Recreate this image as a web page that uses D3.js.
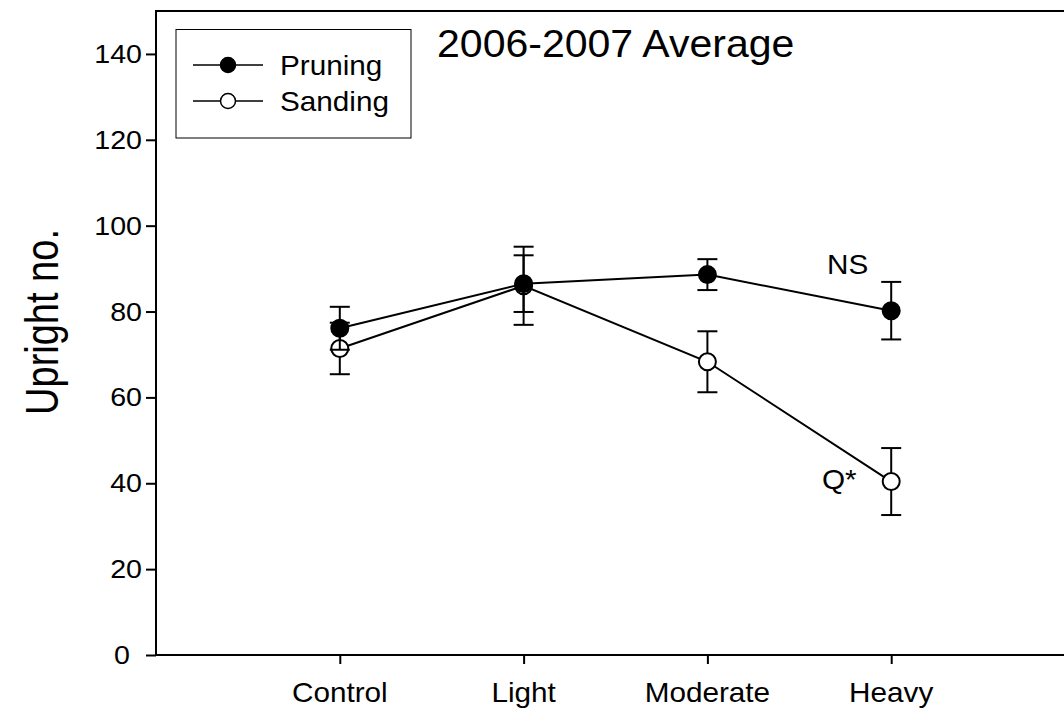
<!DOCTYPE html>
<html>
<head>
<meta charset="utf-8">
<script src="https://cdn.jsdelivr.net/npm/d3@7"></script>
<style>
  body { margin: 0; background: #fff; }
  text { font-family: "Liberation Sans", Arial, sans-serif; fill: #000; }
</style>
</head>
<body>
<div class="chart"></div>
<script>
// data
var categories = ["Control", "Light", "Moderate", "Heavy"];
var pruning = [76.1, 86.5, 88.6, 80.2];
var pruningErr = [5.0, 6.6, 3.6, 6.7];
var sanding = [71.4, 86.0, 68.3, 40.4];
var sandingErr = [6.0, 9.1, 7.1, 7.8];
var yTicks = [0, 20, 40, 60, 80, 100, 120, 140];

var W = 1064, H = 715;
var sx = 1.1; // text in the source is drawn a bit wide

var x = d3.scaleLinear().domain([0, 5]).range([156, 1075]);
var y = d3.scaleLinear().domain([0, 150]).range([655, 11]);

var svg = d3.select(".chart").append("svg")
    .attr("width", W)
    .attr("height", H);

function wideText(g, tx, ty, str, size, anchor, k) {
    return g.append("text")
        .attr("transform", "translate(" + tx + "," + ty + ") scale(" + (k || sx) + ",1)")
        .attr("text-anchor", anchor || "start")
        .style("font-size", size + "px")
        .text(str);
}

// frame (right side runs off the page)
svg.append("rect")
    .attr("x", x(0)).attr("y", y(150))
    .attr("width", x(5) - x(0)).attr("height", y(0) - y(150))
    .attr("fill", "none").attr("stroke", "#000").attr("stroke-width", 2);

// y axis
var yAxis = d3.axisLeft(y).tickValues(yTicks).tickSize(10).tickFormat("");
var gy = svg.append("g").attr("transform", "translate(" + x(0) + ",0)").call(yAxis);
gy.select(".domain").remove();
gy.selectAll(".tick line").attr("stroke-width", 2);
yTicks.forEach(function (t) {
    // the zero label sits further out, as in the source
    var off = t === 0 ? 26 : 14;
    wideText(svg, x(0) - off, y(t) + 9, t, 26, "end");
});

// x axis
var xAxis = d3.axisBottom(x).tickValues([1, 2, 3, 4]).tickSize(9).tickFormat("");
var gx = svg.append("g").attr("transform", "translate(0," + y(0) + ")").call(xAxis);
gx.select(".domain").remove();
gx.selectAll(".tick line").attr("stroke-width", 2);
categories.forEach(function (c, i) {
    wideText(svg, x(i + 1), 702, c, 27, "middle");
});

// axis title
svg.append("text")
    .attr("transform", "translate(58,322) scale(1.2,1) rotate(-90)")
    .attr("text-anchor", "middle")
    .style("font-size", "38px")
    .text("Upright no.");

// title
wideText(svg, 437, 57, "2006-2007 Average", 38, "start", 1.08);

var line = d3.line()
    .x(function (d, i) { return x(i + 1); })
    .y(function (d) { return y(d); });

function drawSeries(vals, errs, fill) {
    var g = svg.append("g");
    g.append("path")
        .attr("d", line(vals))
        .attr("fill", "none").attr("stroke", "#000").attr("stroke-width", 2);
    vals.forEach(function (v, i) {
        var cx = x(i + 1);
        g.append("line")
            .attr("x1", cx).attr("x2", cx)
            .attr("y1", y(v - errs[i])).attr("y2", y(v + errs[i]))
            .attr("stroke", "#000").attr("stroke-width", 2);
        [v - errs[i], v + errs[i]].forEach(function (e) {
            g.append("line")
                .attr("x1", cx - 10).attr("x2", cx + 10)
                .attr("y1", y(e)).attr("y2", y(e))
                .attr("stroke", "#000").attr("stroke-width", 2);
        });
    });
    g.selectAll("circle").data(vals).enter().append("circle")
        .attr("cx", function (d, i) { return x(i + 1); })
        .attr("cy", function (d) { return y(d); })
        .attr("r", 8.5)
        .attr("fill", fill).attr("stroke", "#000").attr("stroke-width", 2);
}

drawSeries(sanding, sandingErr, "#fff");
drawSeries(pruning, pruningErr, "#000");

// significance labels
wideText(svg, 827, 274, "NS", 27, "start");
wideText(svg, 822, 489, "Q*", 27, "start");

// legend
svg.append("rect")
    .attr("x", 176).attr("y", 29.5).attr("width", 235).attr("height", 108.5)
    .attr("fill", "#fff").attr("stroke", "#000").attr("stroke-width", 1);
[["Pruning", "#000", 65], ["Sanding", "#fff", 101]].forEach(function (d) {
    svg.append("line")
        .attr("x1", 193).attr("x2", 263).attr("y1", d[2]).attr("y2", d[2])
        .attr("stroke", "#000").attr("stroke-width", 1.5);
    svg.append("circle")
        .attr("cx", 228).attr("cy", d[2]).attr("r", 7.5)
        .attr("fill", d[1]).attr("stroke", "#000").attr("stroke-width", 1.5);
    wideText(svg, 280, d[2] + 10, d[0], 27, "start");
});
</script>
</body>
</html>
